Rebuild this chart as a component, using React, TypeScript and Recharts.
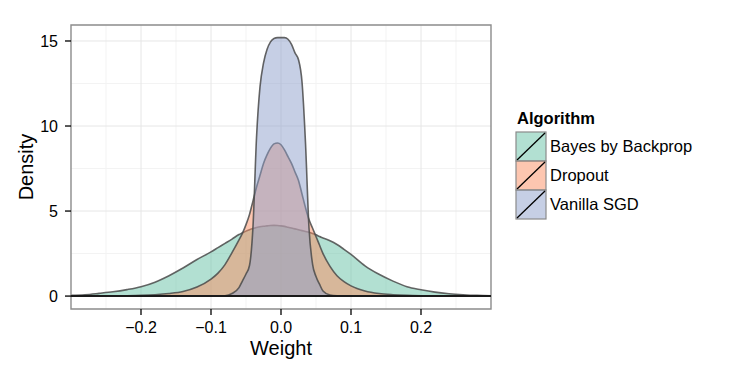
import {
  ComposedChart,
  Area,
  XAxis,
  YAxis,
  CartesianGrid,
  ReferenceLine,
  ReferenceArea,
  Label,
} from "recharts";

// weight grid shared by all three density curves
const weights = [
  -0.3, -0.28, -0.26, -0.24, -0.22, -0.2, -0.18, -0.16, -0.14, -0.12, -0.1,
  -0.09, -0.08, -0.07, -0.06, -0.055, -0.05, -0.045, -0.04, -0.035, -0.03,
  -0.025, -0.02, -0.015, -0.01, -0.005, 0, 0.005, 0.01, 0.015, 0.02, 0.025,
  0.03, 0.035, 0.04, 0.045, 0.05, 0.055, 0.06, 0.07, 0.08, 0.09, 0.1, 0.12,
  0.14, 0.16, 0.18, 0.2, 0.22, 0.24, 0.26, 0.28, 0.3,
];

const bayesByBackprop = [
  0.04, 0.08, 0.16, 0.25, 0.38, 0.55, 0.82, 1.2, 1.65, 2.15, 2.6, 2.85, 3.1,
  3.35, 3.62, 3.72, 3.82, 3.9, 3.97, 4.03, 4.08, 4.11, 4.13, 4.15, 4.16, 4.15,
  4.13, 4.1, 4.05, 4.0, 3.95, 3.9, 3.85, 3.8, 3.75, 3.68, 3.6, 3.5, 3.42, 3.25,
  3.03, 2.75, 2.45, 1.78, 1.28, 0.88, 0.55, 0.37, 0.23, 0.14, 0.08, 0.04, 0.02,
];

const dropout = [
  0, 0.003, 0.006, 0.01, 0.02, 0.04, 0.08, 0.15, 0.27, 0.53, 1.0, 1.35, 1.85,
  2.55, 3.3, 3.7, 4.2, 4.8, 5.6, 6.4, 7.1, 7.8, 8.3, 8.7, 8.95, 9.0, 8.9, 8.6,
  8.2, 7.8, 7.3, 6.8, 6.0, 5.2, 4.5, 4.0, 3.5, 3.0, 2.5, 1.75, 1.2, 0.85, 0.6,
  0.3, 0.15, 0.08, 0.04, 0.02, 0.01, 0.005, 0.002, 0.001, 0,
];

const vanillaSgd = [
  0, 0, 0, 0, 0, 0, 0, 0, 0, 0, 0, 0.003, 0.02, 0.15, 0.5, 0.9, 1.3, 1.8, 4.1,
  9.3, 12.3, 13.7, 14.5, 14.95, 15.15, 15.2, 15.2, 15.2, 15.1, 14.8, 14.3,
  13.9, 12.6, 9.0, 4.0, 1.9, 1.15, 0.7, 0.3, 0.06, 0.01, 0, 0, 0, 0, 0, 0, 0,
  0, 0, 0, 0, 0,
];

const xTicks = [-0.2, -0.1, 0, 0.1, 0.2];
const yTicks = [0, 5, 10, 15];
const xMinor = [-0.25, -0.15, -0.05, 0.05, 0.15, 0.25];
const yMinor = [2.5, 7.5, 12.5];

const series = [
  { key: "bayes", name: "Bayes by Backprop", color: "#66c2a5" },
  { key: "dropout", name: "Dropout", color: "#fc8d62" },
  { key: "vanilla", name: "Vanilla SGD", color: "#8da0cb" },
];

const data = weights.map((x, i) => ({
  x,
  bayes: bayesByBackprop[i],
  dropout: dropout[i],
  vanilla: vanillaSgd[i],
}));

const FONT = "'Liberation Sans', Arial, Helvetica, sans-serif";

const fmt = (v: number) => {
  const s = v === 0 ? "0.0" : Math.abs(v).toFixed(1);
  return v < 0 ? "\u2212" + s : s;
};

function LegendBox() {
  return (
    <svg width={210} height={125} style={{ display: "block" }}>
      <text x={7} y={24} fontFamily={FONT} fontSize={16.5} fontWeight="bold" fill="#000">
        Algorithm
      </text>
      {series.map((s, i) => {
        const top = 32 + i * 29;
        return (
          <g key={s.key}>
            <rect x={6} y={top} width={30} height={29} fill={s.color} fillOpacity={0.5} stroke="#8a8a8a" strokeWidth={1.2} />
            <line x1={7} y1={top + 28} x2={35} y2={top + 1} stroke="#000" strokeWidth={1.3} />
            <text x={40} y={top + 20} fontFamily={FONT} fontSize={16.5} fill="#000">
              {s.name}
            </text>
          </g>
        );
      })}
    </svg>
  );
}

export default function App() {
  return (
    <div style={{ position: "absolute", left: 0, top: 0, width: 747, height: 374, background: "#fff" }}>
      <ComposedChart
        width={747}
        height={374}
        data={data}
        margin={{ top: 25, right: 256, bottom: 0, left: 0 }}
      >
        {/* minor grid first, then major on top */}
        <CartesianGrid stroke="#f3f3f3" strokeWidth={1} horizontalValues={yMinor} verticalValues={xMinor} />
        <CartesianGrid stroke="#e6e6e6" strokeWidth={1} horizontalValues={yTicks} verticalValues={xTicks} />
        <XAxis
          dataKey="x"
          type="number"
          domain={[-0.3, 0.3]}
          ticks={xTicks}
          tickFormatter={fmt}
          height={65}
          axisLine={false}
          tickLine={{ stroke: "#000", strokeWidth: 1.3 }}
          tickSize={6}
          tickMargin={7}
          tick={{ fill: "#000", fontSize: 16, fontFamily: FONT }}
        >
          <Label
            content={({ viewBox }: any) => (
              <text
                x={viewBox.x + viewBox.width / 2}
                y={viewBox.y + 46}
                textAnchor="middle"
                fontFamily={FONT}
                fontSize={20}
                fill="#000"
              >
                Weight
              </text>
            )}
          />
        </XAxis>
        <YAxis
          type="number"
          domain={[-0.76, 15.94]}
          ticks={yTicks}
          width={71}
          axisLine={false}
          tickLine={{ stroke: "#000", strokeWidth: 1.3 }}
          tickSize={6}
          tickMargin={7}
          tick={{ fill: "#000", fontSize: 16, fontFamily: FONT }}
        >
          <Label
            content={({ viewBox }: any) => {
              const cx = viewBox.x + 33;
              const cy = viewBox.y + viewBox.height / 2;
              return (
                <text
                  x={cx}
                  y={cy}
                  transform={`rotate(-90 ${cx} ${cy})`}
                  textAnchor="middle"
                  fontFamily={FONT}
                  fontSize={20}
                  fill="#000"
                >
                  Density
                </text>
              );
            }}
          />
        </YAxis>
        {series.map((s) => (
          <Area
            key={s.key}
            dataKey={s.key}
            name={s.name}
            type="monotone"
            baseValue={0}
            fill={s.color}
            fillOpacity={0.5}
            stroke="#4a4a4a"
            strokeOpacity={0.85}
            strokeWidth={1.6}
            dot={false}
            activeDot={false}
            isAnimationActive={false}
          />
        ))}
        <ReferenceLine y={0} stroke="#1a1a1a" strokeWidth={2} />
        <ReferenceArea
          x1={-0.3}
          x2={0.3}
          y1={-0.76}
          y2={15.94}
          fill="none"
          stroke="#8c8c8c"
          strokeWidth={1.4}
          ifOverflow="extendDomain"
        />
      </ComposedChart>
      <div style={{ position: "absolute", left: 510, top: 100 }}>
        <LegendBox />
      </div>
    </div>
  );
}
